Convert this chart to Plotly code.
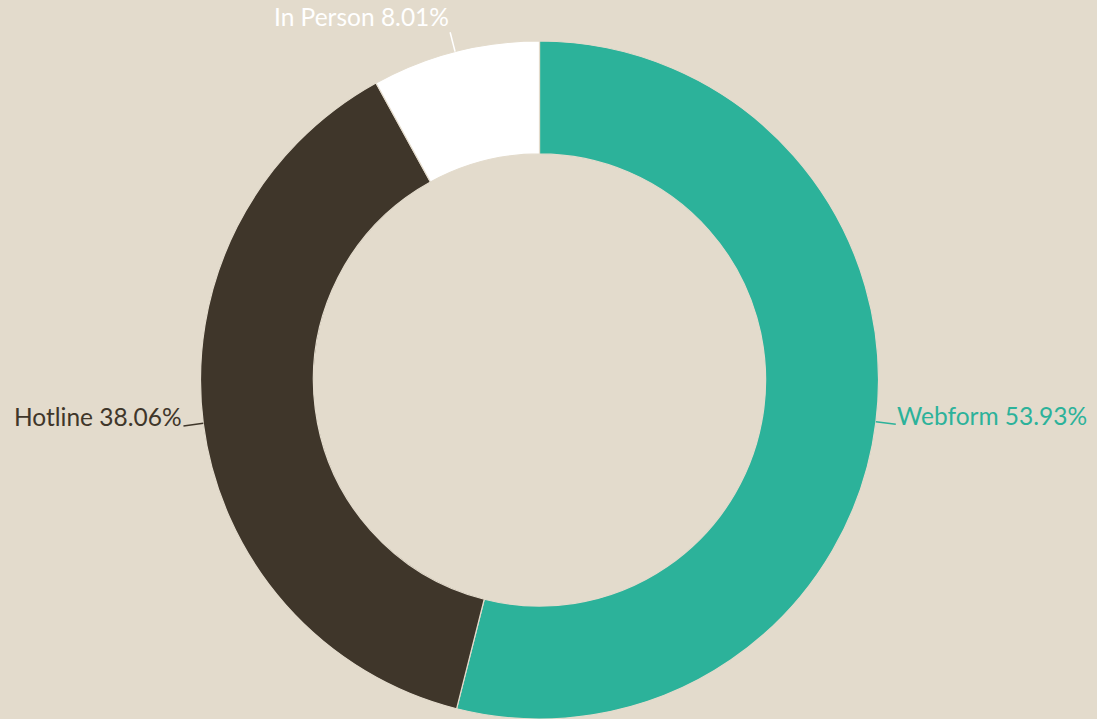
import math
import plotly.graph_objects as go

labels = ["Webform", "Hotline", "In Person"]
values = [53.93, 38.06, 8.01]
colors = ["#2CB29A", "#3F362A", "#FFFFFF"]
bg = "#E3DBCC"

W, H = 1097, 719
ml, mr, mt, mb = 0, 18, 41, 0
pw, ph = W - ml - mr, H - mt - mb
R = min(pw, ph) / 2.0
cx, cy = ml + pw / 2.0, mt + ph / 2.0
leader = 20

fig = go.Figure(go.Pie(
    labels=labels,
    values=values,
    hole=0.667,
    sort=False,
    direction="clockwise",
    rotation=0,
    marker=dict(colors=colors, line=dict(color=bg, width=1.2)),
    textinfo="none",
    showlegend=False,
    hoverinfo="label+percent",
))


def to_paper(px, py):
    return (px - ml) / pw, 1 - (py - mt) / ph


total = sum(values)
cum = 0.0
shapes, annotations = [], []
for lab, val, col in zip(labels, values, colors):
    mid = (cum + val / 2.0) / total * 2 * math.pi
    cum += val
    s, c = math.sin(mid), math.cos(mid)
    px, py = cx + R * s, cy - R * c
    qx, qy = px + leader * s, py - leader * c
    x0, y0 = to_paper(px, py)
    x1, y1 = to_paper(qx, qy)
    shapes.append(dict(type="line", xref="paper", yref="paper",
                       x0=x0, y0=y0, x1=x1, y1=y1,
                       line=dict(color=col, width=1.5)))
    xanchor = "left" if s > 0 else "right"
    yshift = 0
    if abs(c) < 0.5:
        yanchor = "middle"
        yshift = 9
    else:
        yanchor = "bottom" if c > 0 else "top"
    annotations.append(dict(
        xref="paper", yref="paper", x=x1, y=y1,
        text=f"{lab} {val / total * 100:.2f}%",
        showarrow=False, xanchor=xanchor, yanchor=yanchor, yshift=yshift,
        borderpad=0,
        font=dict(color=col, size=24.5, family="Lato, 'Open Sans', sans-serif"),
    ))

fig.update_layout(
    width=W, height=H,
    paper_bgcolor=bg, plot_bgcolor=bg,
    margin=dict(l=ml, r=mr, t=mt, b=mb),
    shapes=shapes,
    annotations=annotations,
)

fig.write_html(
    "out.html",
    config={"displayModeBar": False},
    post_script=(
        "document.body.style.margin='0';"
        "document.body.style.overflow='hidden';"
        f"document.body.style.background='{bg}';"
    ),
)
